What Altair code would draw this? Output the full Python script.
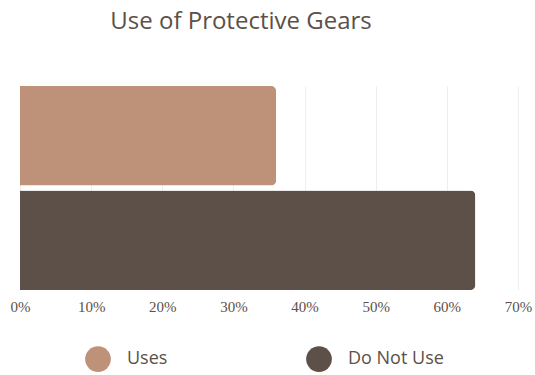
import altair as alt
import pandas as pd

# Share of respondents by protective-gear usage
categories = ["Uses", "Do Not Use"]
shares = [36, 64]
colors = ["#BD9278", "#5C5048"]
tick_values = [0, 10, 20, 30, 40, 50, 60, 70]

df = pd.DataFrame({"group": categories, "share": shares})

text_color = "#5C5048"

chart = (
    alt.Chart(df)
    .mark_bar(cornerRadiusEnd=5)
    .encode(
        x=alt.X(
            "share:Q",
            scale=alt.Scale(domain=[0, 70], nice=False),
            axis=alt.Axis(
                values=tick_values,
                labelExpr="datum.value + '%'",
                title=None,
                domain=False,
                ticks=False,
                grid=True,
                gridColor="#EEEEEE",
                gridWidth=1,
                labelFont="Liberation Serif",
                labelFontSize=15,
                labelColor=text_color,
                labelPadding=9,
                labelFlush=False,
            ),
        ),
        y=alt.Y(
            "group:N",
            sort=categories,
            scale=alt.Scale(paddingInner=0.05, paddingOuter=0),
            axis=None,
        ),
        color=alt.Color(
            "group:N",
            sort=categories,
            scale=alt.Scale(domain=categories, range=colors),
            legend=alt.Legend(
                title=None,
                orient="none",
                direction="horizontal",
                legendX=65,
                legendY=260,
                padding=0,
                symbolType="circle",
                symbolSize=660,
                symbolStrokeWidth=0,
                symbolOpacity=1,
                labelFont="Open Sans",
                labelFontSize=18,
                labelColor=text_color,
                labelOffset=16,
                columnPadding=138,
            ),
        ),
    )
    .properties(
        width=498,
        height=204,
        padding={"left": 20, "top": 86, "right": 17, "bottom": 85},
        autosize=alt.AutoSizeParams(type="none"),
        title=alt.TitleParams(
            "Use of Protective Gears",
            font="Open Sans",
            fontSize=24,
            fontWeight=400,
            color=text_color,
            anchor="middle",
            dx=-28,
            offset=52,
        ),
    )
    .configure_view(stroke=None)
)

chart.save("out.html", embed_options={"renderer": "svg", "actions": False})
